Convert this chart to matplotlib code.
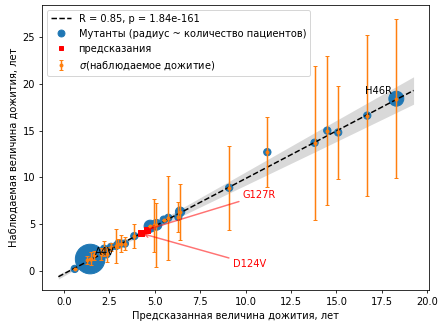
import matplotlib
matplotlib.use('Agg')
import matplotlib.pyplot as plt
from matplotlib.lines import Line2D

# Mutants: predicted survival, observed survival, sigma (lower/upper), marker size (~ patients)
pred = [0.6, 1.45, 1.25, 1.52, 1.67, 2.05, 2.22, 2.35, 2.6, 2.88, 3.0, 3.15, 3.36,
        3.88, 4.75, 4.98, 5.1, 5.5, 5.75, 6.3, 6.4, 9.1, 11.2, 13.8, 14.5, 15.1,
        16.7, 18.3]
obs = [0.25, 1.3, 1.2, 1.35, 1.7, 1.8, 2.4, 1.8, 2.6, 2.7, 2.95, 2.95, 2.95,
       3.75, 4.8, 4.9, 4.95, 5.5, 5.7, 5.8, 6.35, 8.9, 12.7, 13.7, 15.0, 14.8,
       16.6, 18.4]
sigma_lo = [0.0, 0.0, 0.45, 0.7, 0.5, 0.65, 0.8, 0.8, 0.4, 1.8, 0.5, 0.9, 0.7,
            1.25, 0.0, 2.85, 4.45, 0.0, 4.5, 1.6, 3.0, 4.5, 3.7, 8.2, 7.95, 4.95,
            8.6, 8.5]
sigma_hi = [0.0, 0.0, 0.45, 0.7, 0.5, 0.65, 0.8, 0.8, 0.4, 1.8, 0.5, 0.9, 0.7,
            1.25, 0.0, 2.85, 2.35, 0.0, 4.5, 1.6, 3.0, 4.5, 3.7, 8.2, 7.95, 4.95,
            8.6, 8.5]
sizes = [55, 900, 55, 55, 55, 55, 55, 55, 55, 55, 55, 55, 55,
         55, 150, 80, 120, 55, 55, 55, 90, 55, 55, 55, 55, 55,
         55, 230]

# Predictions for new mutants
new_names = ['D124V', 'G127R']
new_pred = [4.25, 4.6]
new_obs = [4.05, 4.45]
new_text_pos = [(9.3, 0.8), (9.85, 8.1)]

# Labelled mutants
lab_names = ['A4V', 'H46R']
lab_pos = [(1.7, 2.05), (16.6, 19.2)]

# Regression line and its confidence band
reg_slope = 1.016
reg_intercept = -0.28
reg_x = [-0.3, 19.25]
band_x = [-0.3, 1.0, 2.5, 5.0, 9.0, 14.0, 19.25]
band_hw = [0.25, 0.15, 0.12, 0.3, 0.62, 1.05, 1.46]

fig = plt.figure(figsize=(6.175, 4.515), dpi=71.1)
ax = fig.add_axes([0.0957, 0.0966, 0.8815, 0.888])

bx = band_x
by = [reg_slope * x + reg_intercept for x in bx]
ax.fill_between(bx, [y - h for y, h in zip(by, band_hw)],
                [y + h for y, h in zip(by, band_hw)],
                color='black', alpha=0.15, lw=0, zorder=1)

ax.scatter(pred, obs, s=sizes, color='C0', zorder=2)

ry = [reg_slope * x + reg_intercept for x in reg_x]
ax.plot(reg_x, ry, '--', color='black', lw=1.5, zorder=3)

ax.scatter(new_pred, new_obs, marker='s', s=30, color='red', zorder=3.5)

eb = ax.errorbar(pred, obs, yerr=[sigma_lo, sigma_hi], fmt='o', color='C1', ms=3,
                 capsize=2, elinewidth=1.5, zorder=4)

for name, (tx, ty), px, py in zip(new_names, new_text_pos, new_pred, new_obs):
    ax.annotate(name, xy=(px, py), xytext=(tx, ty), color='red',
                fontsize=10, va='center', ha='left', zorder=5,
                arrowprops=dict(arrowstyle='->', color='red', alpha=0.55, lw=1.5))

for name, (tx, ty) in zip(lab_names, lab_pos):
    ax.text(tx, ty, name, fontsize=10, va='center', ha='left', zorder=5)

ax.set_xlim(-1.2, 20.1)
ax.set_ylim(-2.0, 28.4)
ax.set_xticks([0, 2.5, 5, 7.5, 10, 12.5, 15, 17.5, 20])
ax.set_xticklabels(['0.0', '2.5', '5.0', '7.5', '10.0', '12.5', '15.0', '17.5', '20.0'])
ax.set_yticks([0, 5, 10, 15, 20, 25])
ax.set_xlabel('Предсказанная величина дожития, лет')
ax.set_ylabel('Наблюдаемая величина дожития, лет')

handles = [
    Line2D([], [], ls='--', color='black', lw=1.5),
    Line2D([], [], ls='none', marker='o', color='C0', ms=7),
    Line2D([], [], ls='none', marker='s', color='red', ms=5),
    eb,
]
labels = ['R = 0.85, p = 1.84e-161',
          'Мутанты (радиус ~ количество пациентов)',
          'предсказания',
          r'$\sigma$(наблюдаемое дожитие)']
ax.legend(handles, labels, loc='upper left')

fig.savefig('out.png', dpi=71.1)
